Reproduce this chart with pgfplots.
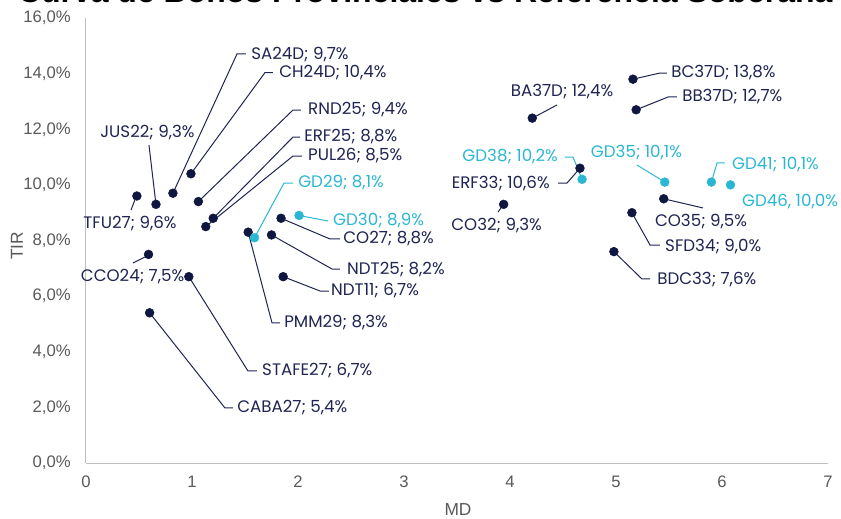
\documentclass[border=0pt]{standalone}
\usepackage{pgfplots}
\pgfplotsset{compat=1.18}
\usepackage{fontspec}
\setmainfont{Poppins}
\newfontfamily\tickfont{Liberation Sans}
\newfontfamily\titlefont{Liberation Sans}
\definecolor{navy}{HTML}{0F1640}
\definecolor{cyanb}{HTML}{2BB7D3}
\definecolor{labnavy}{HTML}{1F2452}
\definecolor{axgray}{HTML}{BFBFBF}
\definecolor{txtgray}{HTML}{595959}
\begin{document}
\begin{tikzpicture}
\begin{axis}[
  scale only axis, width=556.5pt, height=333.75pt,
  xmin=0, xmax=7, ymin=0, ymax=16,
  xtick={0,...,7}, ytick={0,2,...,16},
  axis x line*=bottom, axis y line*=left,
  axis line style={draw=axgray, line width=0.75pt, -},
  major tick length=0pt,
  /pgf/number format/assume math mode=true,
  tick label style={font=\tickfont\fontsize{12.5}{14}\selectfont, text=txtgray},
  yticklabel={\pgfmathprintnumber[fixed,fixed zerofill,precision=1,use comma,assume math mode=true]{\tick}\%},
  yticklabel style={xshift=-8pt},
  xticklabel style={yshift=-6pt},
  clip=false,
]
% provincial / corporate bonds
\addplot[only marks, mark=*, mark size=3.3pt, navy] coordinates {
 (0.48,9.6) (0.66,9.3) (0.82,9.7) (0.99,10.4) (1.06,9.4) (1.20,8.8) (1.13,8.5)
 (0.59,7.5) (0.97,6.7) (0.60,5.4) (1.53,8.3) (1.84,8.8) (1.75,8.2) (1.86,6.7)
 (5.16,13.8) (5.19,12.7) (4.21,12.4) (4.66,10.6) (3.94,9.3) (5.45,9.5) (5.15,9.0) (4.98,7.6)
};
% sovereign reference
\addplot[only marks, mark=*, mark size=3.3pt, cyanb] coordinates {
 (1.59,8.1) (2.01,8.9) (4.68,10.2) (5.46,10.1) (5.90,10.1) (6.08,10.0)
};
% leader lines navy
\begin{scope}[draw=labnavy, line width=0.75pt]
\draw (axis cs:0.82,9.7) -- (axis cs:1.4245,14.706) -- (axis cs:1.509,14.706);
\draw (axis cs:0.99,10.4) -- (axis cs:1.689,14.04) -- (axis cs:1.764,14.04);
\draw (axis cs:1.06,9.4) -- (axis cs:1.953,12.692) -- (axis cs:2.028,12.692);
\draw (axis cs:1.20,8.8) -- (axis cs:1.953,11.721) -- (axis cs:2.019,11.721);
\draw (axis cs:1.13,8.5) -- (axis cs:1.953,11.038) -- (axis cs:2.038,11.038);
\draw (axis cs:0.66,9.3) -- (axis cs:0.594,11.434);
\draw (axis cs:0.46,9.45) -- (axis cs:0.425,9.097);
\draw (axis cs:0.557,7.407) -- (axis cs:0.443,7.191);
\draw (axis cs:0.97,6.7) -- (axis cs:1.528,3.308) -- (axis cs:1.613,3.308);
\draw (axis cs:0.60,5.4) -- (axis cs:1.311,1.978) -- (axis cs:1.387,1.978);
\draw (axis cs:1.53,8.3) -- (axis cs:1.755,5.034) -- (axis cs:1.830,5.034);
\draw (axis cs:1.84,8.8) -- (axis cs:2.302,8.054) -- (axis cs:2.396,8.054);
\draw (axis cs:1.75,8.2) -- (axis cs:2.321,6.975) -- (axis cs:2.396,6.975);
\draw (axis cs:1.86,6.7) -- (axis cs:2.208,6.184) -- (axis cs:2.292,6.184);
\draw (axis cs:5.16,13.8) -- (axis cs:5.415,14.022) -- (axis cs:5.481,14.022);
\draw (axis cs:5.19,12.7) -- (axis cs:5.491,13.16) -- (axis cs:5.575,13.16);
\draw (axis cs:4.21,12.4) -- (axis cs:4.443,12.872);
\draw (axis cs:4.66,10.6) -- (axis cs:4.538,10.067) -- (axis cs:4.453,10.067);
\draw (axis cs:3.94,9.3) -- (axis cs:3.887,9.025);
\draw (axis cs:5.45,9.5) -- (axis cs:5.821,9.169);
\draw (axis cs:5.15,9.0) -- (axis cs:5.321,7.838) -- (axis cs:5.415,7.838);
\draw (axis cs:4.98,7.6) -- (axis cs:5.245,6.616) -- (axis cs:5.321,6.616);
\end{scope}
\begin{scope}[draw=cyanb, line width=0.75pt]
\draw (axis cs:1.59,8.1) -- (axis cs:1.868,10.067) -- (axis cs:1.953,10.067);
\draw (axis cs:2.01,8.9) -- (axis cs:2.283,8.701);
\draw (axis cs:4.68,10.2) -- (axis cs:4.594,11.002) -- (axis cs:4.519,11.002);
\draw (axis cs:5.46,10.1) -- (axis cs:5.198,10.715);
\draw (axis cs:5.90,10.1) -- (axis cs:5.953,10.787) -- (axis cs:6.028,10.787);
\end{scope}
% labels navy
\begin{scope}[every node/.append style={text=labnavy, inner sep=0pt, font=\fontsize{12.5}{14}\selectfont}]
\node[anchor=west] at (axis cs:1.557,14.69) {SA24D; 9,7\%};
\node[anchor=west] at (axis cs:1.821,14.04) {CH24D; 10,4\%};
\node[anchor=west] at (axis cs:2.094,12.692) {RND25; 9,4\%};
\node[anchor=west] at (axis cs:2.057,11.721) {ERF25; 8,8\%};
\node[anchor=west] at (axis cs:2.094,11.038) {PUL26; 8,5\%};
\node[anchor=center] at (axis cs:0.58,11.865) {JUS22; 9,3\%};
\node[anchor=center] at (axis cs:0.415,8.593) {TFU27; 9,6\%};
\node[anchor=center] at (axis cs:0.439,6.688) {CCO24; 7,5\%};
\node[anchor=west] at (axis cs:1.660,3.308) {STAFE27; 6,7\%};
\node[anchor=west] at (axis cs:1.425,1.978) {CABA27; 5,4\%};
\node[anchor=west] at (axis cs:1.868,5.034) {PMM29; 8,3\%};
\node[anchor=west] at (axis cs:2.425,8.054) {CO27; 8,8\%};
\node[anchor=west] at (axis cs:2.462,6.939) {NDT25; 8,2\%};
\node[anchor=west] at (axis cs:2.311,6.184) {NDT11; 6,7\%};
\node[anchor=west] at (axis cs:5.519,14.022) {BC37D; 13,8\%};
\node[anchor=west] at (axis cs:5.623,13.16) {BB37D; 12,7\%};
\node[anchor=center] at (axis cs:4.491,13.36) {BA37D; 12,4\%};
\node[anchor=east] at (axis cs:4.377,10.031) {ERF33; 10,6\%};
\node[anchor=center] at (axis cs:3.873,8.521) {CO32; 9,3\%};
\node[anchor=center] at (axis cs:5.802,8.665) {CO35; 9,5\%};
\node[anchor=west] at (axis cs:5.462,7.767) {SFD34; 9,0\%};
\node[anchor=west] at (axis cs:5.387,6.58) {BDC33; 7,6\%};
\end{scope}
\begin{scope}[every node/.append style={text=cyanb, inner sep=0pt, font=\fontsize{12.5}{14}\selectfont}]
\node[anchor=west] at (axis cs:2.0,10.067) {GD29; 8,1\%};
\node[anchor=west] at (axis cs:2.33,8.701) {GD30; 8,9\%};
\node[anchor=east] at (axis cs:4.453,11.002) {GD38; 10,2\%};
\node[anchor=center] at (axis cs:5.193,11.146) {GD35; 10,1\%};
\node[anchor=west] at (axis cs:6.094,10.715) {GD41; 10,1\%};
\node[anchor=center] at (axis cs:6.642,9.384) {GD46, 10,0\%};
\end{scope}
\node[anchor=base, font=\titlefont\bfseries\fontsize{24}{28}\selectfont, text=black] at (axis cs:3.2,16.54) {Curva de Bonos Provinciales vs Referencia Soberana};
\coordinate (bl) at (rel axis cs:0,0);
\coordinate (tr) at (rel axis cs:1,1);
\coordinate (tirc) at (rel axis cs:0,0.5);
\coordinate (mdc) at (rel axis cs:0.5,0);
\end{axis}
\node[font=\tickfont\fontsize{13}{15}\selectfont, text=txtgray, rotate=90] at ([shift={(-51.75pt,-4pt)}]tirc) {TIR};
\node[font=\tickfont\fontsize{13}{15}\selectfont, text=txtgray] at ([shift={(0.75pt,-35pt)}]mdc) {MD};
\pgfresetboundingbox
\path[use as bounding box] ([shift={(-64.5pt,-41.25pt)}]bl) rectangle ([shift={(9.75pt,13.5pt)}]tr);
\end{tikzpicture}
\end{document}
